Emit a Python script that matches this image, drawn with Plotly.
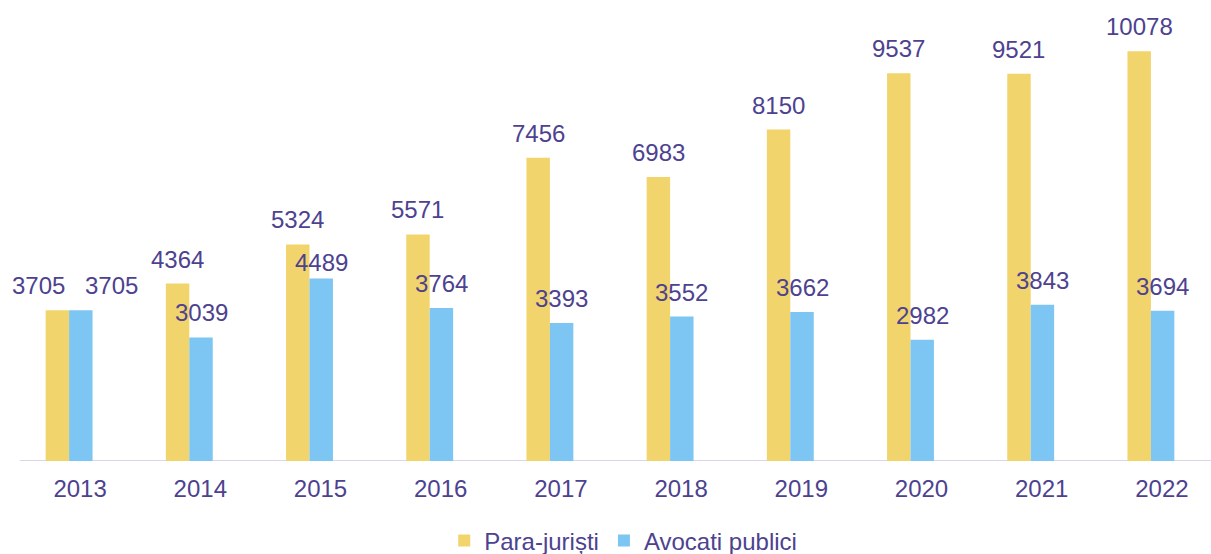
import plotly.graph_objects as go

years = ["2013", "2014", "2015", "2016", "2017", "2018", "2019", "2020", "2021", "2022"]
para_juristi = [3705, 4364, 5324, 5571, 7456, 6983, 8150, 9537, 9521, 10078]
avocati_publici = [3705, 3039, 4489, 3764, 3393, 3552, 3662, 2982, 3843, 3694]

YELLOW = "#F2D46D"
BLUE = "#7DC5F2"
TEXT = "#4D428F"
FONT = "Liberation Sans, Arial, sans-serif"
FS = 24
BARGAP = 0.61
half = (1 - BARGAP) / 4  # offset of each bar centre from category centre

fig = go.Figure()
fig.add_trace(go.Bar(x=years, y=para_juristi, name="Para-juriști", marker_color=YELLOW,
                     marker_line_width=0))
fig.add_trace(go.Bar(x=years, y=avocati_publici, name="Avocati publici", marker_color=BLUE,
                     marker_line_width=0))

# data labels
xshift_y = {0: -19}
xshift_b = {0: 31}
yshift_b = {2: -9}
for i, (a, b) in enumerate(zip(para_juristi, avocati_publici)):
    fig.add_annotation(x=i - half, y=a, xref="x", yref="y", text=str(a), showarrow=False,
                       yanchor="bottom", yshift=9, xshift=xshift_y.get(i, 0),
                       font=dict(size=FS, color=TEXT, family=FONT))
    fig.add_annotation(x=i + half, y=b, xref="x", yref="y", text=str(b), showarrow=False,
                       yanchor="bottom", yshift=9 + yshift_b.get(i, 0), xshift=xshift_b.get(i, 0),
                       font=dict(size=FS, color=TEXT, family=FONT))

# baseline axis line
fig.add_shape(type="line", xref="paper", yref="y", x0=0.00915, x1=1, y0=0, y1=0,
              line=dict(color="#D8D5EC", width=2), layer="below")

fig.update_layout(
    width=1211, height=554,
    margin=dict(l=9, r=0, t=10, b=93),
    barmode="group", bargap=BARGAP, bargroupgap=0,
    plot_bgcolor="white", paper_bgcolor="white",
    font=dict(family=FONT, color=TEXT, size=FS),
    showlegend=True,
    legend=dict(orientation="h", x=0.511, xanchor="center", y=0.0235, yref="container",
                yanchor="middle", font=dict(size=FS, color=TEXT, family=FONT),
                itemsizing="constant", traceorder="normal"),
    xaxis=dict(type="category", showline=False,
               ticks="", tickfont=dict(size=FS, color=TEXT, family=FONT),
               ticklabelstandoff=11, ticklabelshift=11, showgrid=False, zeroline=False),
    yaxis=dict(range=[0, 11090], visible=False, showgrid=False, zeroline=False),
)

fig.write_html("out.html", config={"displayModeBar": False},
               post_script="document.body.style.margin='0';document.body.style.padding='0';")
